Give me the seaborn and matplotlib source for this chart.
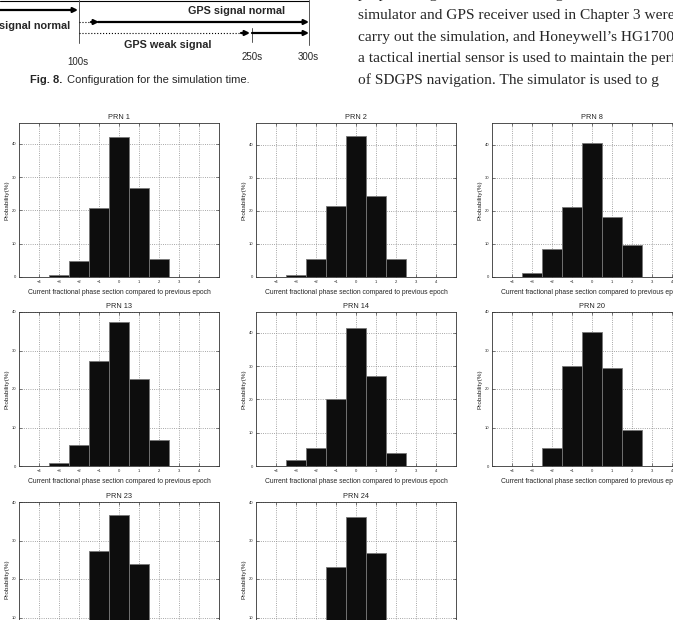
import numpy as np
import matplotlib
matplotlib.use("Agg")
import matplotlib.pyplot as plt
import seaborn as sns

# ==========================================
# Data
# ==========================================

bins = [-3, -2, -1, 0, 1, 2]

prn_names = ["PRN 1", "PRN 2", "PRN 8",
             "PRN 13", "PRN 14", "PRN 20",
             "PRN 23", "PRN 24"]

prn1 = [0.7, 4.7, 20.7, 42.0, 26.7, 5.3]
prn2 = [0.7, 5.3, 21.3, 42.6, 24.5, 5.3]
prn8 = [1.1, 8.6, 21.2, 40.6, 18.0, 9.8]
prn13 = [0.7, 5.4, 27.4, 37.5, 22.7, 6.7]
prn14 = [1.9, 5.3, 20.2, 41.4, 27.0, 3.9]
prn20 = [0.0, 4.7, 26.1, 34.8, 25.4, 9.4]
prn23 = [0.0, 5.5, 27.3, 36.7, 24.0, 6.5]
prn24 = [0.0, 6.5, 23.2, 36.1, 26.7, 7.5]

prn_values = [prn1, prn2, prn8, prn13, prn14, prn20, prn23, prn24]
prn_ymax = [46.3, 46.5, 46.5, 40, 46.3, 40, 40, 40]

x_ticks = [-4, -3, -2, -1, 0, 1, 2, 3, 4]
y_ticks = [0, 10, 20, 30, 40]

xlabel = "Current fractional phase section compared to previous epoch"
ylabel = "Probability(%)"

time_marks = ["100s", "250s", "300s"]
caption_num = "Fig. 8."
caption_text = "Configuration for the simulation time."

body_lines = [
    "proposed algorithm in a weak signal environment, the signal",
    "simulator and GPS receiver used in Chapter 3 were",
    "carry out the simulation, and Honeywell\u2019s HG1700",
    "a tactical inertial sensor is used to maintain the perf",
    "of SDGPS navigation. The simulator is used to g",
]

# ==========================================
# Figure setup
# ==========================================

sns.set_style("white")
plt.rcParams["font.family"] = ["Liberation Sans", "DejaVu Sans"]

W, H = 673, 620
fig = plt.figure(figsize=(W / 100, H / 100), dpi=100)


def px_axes(left, top, w, h):
    return fig.add_axes([left / W, 1 - (top + h) / H, w / W, h / H])


# ==========================================
# Histogram grid
# ==========================================

col_left = [19, 256, 492]
row_top = [123, 312, 502]
ax_w, ax_h = 200, 154

for i, (name, vals, ymax) in enumerate(zip(prn_names, prn_values, prn_ymax)):
    r, c = divmod(i, 3)
    ax = px_axes(col_left[c], row_top[r], ax_w, ax_h)
    sns.histplot(x=bins, weights=vals, discrete=True, color="#0d0d0d",
                 alpha=1, edgecolor="#777777", linewidth=0.6, ax=ax)
    ax.set_xlim(-5, 5)
    ax.set_ylim(0, ymax)
    ax.set_xticks(x_ticks)
    ax.set_yticks(y_ticks)
    ax.grid(True, linestyle=":", color="#8a8a8a", linewidth=0.6)
    ax.set_axisbelow(True)
    ax.tick_params(direction="in", length=2, width=0.4, labelsize=3, pad=2,
                   top=True, right=True, bottom=True, left=True,
                   labeltop=False, labelright=False)
    for sp in ax.spines.values():
        sp.set_color("#333333")
        sp.set_linewidth(0.6)
    ax.set_title(name, fontsize=5.3, pad=3.2)
    ax.set_xlabel(xlabel, fontsize=4.9, labelpad=3.5)
    ax.set_ylabel(ylabel, fontsize=4.6, labelpad=1.5)

# ==========================================
# Top of page: timing diagram, caption, body text
# ==========================================

ov = fig.add_axes([0, 0, 1, 1])
ov.set_xlim(0, W)
ov.set_ylim(H, 0)
ov.axis("off")

# frame lines
ov.plot([0, 309], [0.6, 0.6], color="black", lw=0.8)
ov.plot([78.5, 78.5], [0, 43], color="#555555", lw=0.7)
ov.plot([309, 309], [0, 45], color="#555555", lw=0.7)
ov.plot([252, 252], [28, 42], color="#555555", lw=0.7)

arrow = dict(arrowstyle="-|>", lw=1.6, color="black", mutation_scale=7,
             shrinkA=0, shrinkB=0)
ov.annotate("", xy=(78, 10), xytext=(0, 10), arrowprops=arrow)
ov.plot([79, 94], [22, 22], color="black", lw=0.8, ls=":")
ov.annotate("", xy=(99, 22), xytext=(91, 22), arrowprops=arrow)
ov.annotate("", xy=(309, 22), xytext=(98, 22), arrowprops=arrow)
ov.plot([79, 244], [33, 33], color="black", lw=0.8, ls=":")
ov.annotate("", xy=(250, 33), xytext=(241, 33), arrowprops=arrow)
ov.annotate("", xy=(309, 33), xytext=(252, 33), arrowprops=arrow)

ov.text(237, 11, "GPS signal normal", fontsize=7.8, fontweight="bold",
        ha="center", va="center")
ov.text(70, 26, "signal normal", fontsize=7.8, fontweight="bold",
        ha="right", va="center")
ov.text(168, 44.5, "GPS weak signal", fontsize=7.8, fontweight="bold",
        ha="center", va="center")
for x, y, s in zip([78, 252, 308], [62, 57, 57], time_marks):
    ov.text(x, y, s, fontsize=7, ha="center", va="center")

ov.text(30, 80, caption_num, fontsize=8, fontweight="bold", ha="left",
        va="center")
ov.text(67, 80, caption_text, fontsize=8, ha="left", va="center")

for k, line in enumerate(body_lines):
    ov.text(358, -2 + 21.4 * k, line, fontsize=11.1, ha="left",
            va="baseline", family=["Liberation Serif", "DejaVu Serif"])

plt.savefig("out.png", dpi=100)
plt.close()
